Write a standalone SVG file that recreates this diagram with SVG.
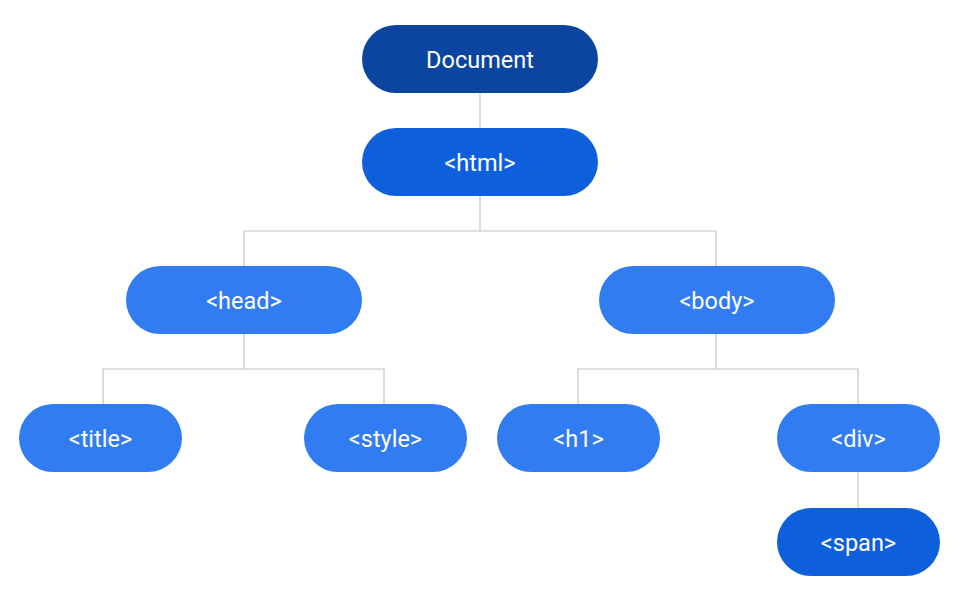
<svg xmlns="http://www.w3.org/2000/svg" width="960" height="601" viewBox="0 0 960 601">
<style>
.l{fill:#ffffff;font-family:Roboto,"Liberation Sans",sans-serif;font-size:23.5px;text-anchor:middle;dominant-baseline:central}
.c{fill:none;stroke:#c4c4c4;stroke-width:1.2}
</style>
<rect width="960" height="601" fill="#ffffff"/>
<g id="connectors" class="c">
<path d="M480 93V128"/>
<path d="M480 196V231H244V266M480 231H716V266"/>
<path d="M244 334V369H103V404M244 369H384V404"/>
<path d="M716 334V369H578V404M716 369H858V404"/>
<path d="M858 472V508"/>
</g>
<g id="document"><rect x="362" y="25" width="236" height="68" rx="34" fill="#0b45a0"/><text class="l" x="480" y="60">Document</text></g>
<g id="html"><rect x="362" y="128" width="236" height="68" rx="34" fill="#0e5fdb"/><text class="l" x="480" y="163">&lt;html&gt;</text></g>
<g id="head"><rect x="126" y="266" width="236" height="68" rx="34" fill="#317cf0"/><text class="l" x="244" y="301">&lt;head&gt;</text></g>
<g id="body"><rect x="599" y="266" width="236" height="68" rx="34" fill="#317cf0"/><text class="l" x="717" y="301">&lt;body&gt;</text></g>
<g id="title"><rect x="19" y="404" width="163" height="68" rx="34" fill="#317cf0"/><text class="l" x="100.5" y="439">&lt;title&gt;</text></g>
<g id="style"><rect x="304" y="404" width="163" height="68" rx="34" fill="#317cf0"/><text class="l" x="385.5" y="439">&lt;style&gt;</text></g>
<g id="h1"><rect x="497" y="404" width="163" height="68" rx="34" fill="#317cf0"/><text class="l" x="578.5" y="439">&lt;h1&gt;</text></g>
<g id="div"><rect x="777" y="404" width="163" height="68" rx="34" fill="#317cf0"/><text class="l" x="858.5" y="439">&lt;div&gt;</text></g>
<g id="span"><rect x="777" y="508" width="163" height="68" rx="34" fill="#0e5fdb"/><text class="l" x="858.5" y="543">&lt;span&gt;</text></g>
</svg>
